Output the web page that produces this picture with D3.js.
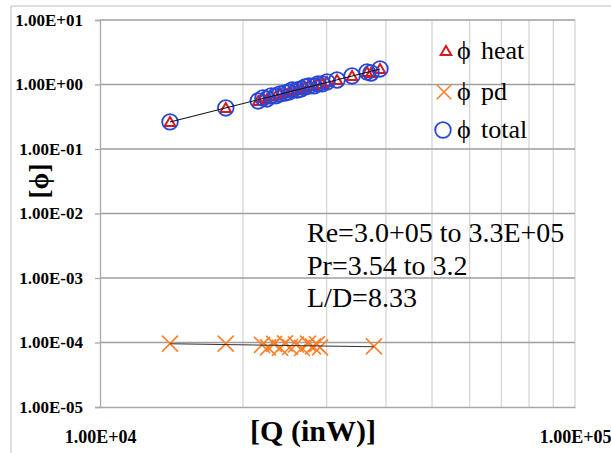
<!DOCTYPE html>
<html>
<head>
<meta charset="utf-8">
<script src="https://cdn.jsdelivr.net/npm/d3@7"></script>
<style>
  body { margin: 0; background: #fff; }
  svg { display: block; font-family: "Liberation Serif", "Times New Roman", serif; }
</style>
</head>
<body>
<svg id="chart" width="611" height="453"></svg>
<script>
// phi heat and phi total (total = heat + pd, same to the eye)
const qHeat = [14040, 18400, 21530, 22030, 22470, 22910, 23470, 23930, 24520, 25000, 25370, 25990,
               26500, 27010, 27540, 28220, 28770, 29340, 30060, 31550, 33930, 36490, 37200, 38860];
const phiHeat = [0.262, 0.432, 0.555, 0.618, 0.596, 0.664, 0.67, 0.713, 0.738, 0.765, 0.822, 0.82,
                 0.852, 0.915, 0.948, 0.95, 1.018, 1.02, 1.094, 1.174, 1.355, 1.563, 1.507, 1.74];
const qTotal = qHeat;
const phiTotal = [0.263, 0.433, 0.556, 0.619, 0.597, 0.665, 0.671, 0.714, 0.739, 0.766, 0.823, 0.821,
                  0.853, 0.916, 0.949, 0.951, 1.019, 1.021, 1.095, 1.175, 1.356, 1.564, 1.508, 1.741];

// phi pd
const qPd = [14040, 18400, 21930, 22580, 23250, 23930, 24520, 25120, 25860, 26620, 27410, 28080,
             28630, 29050, 37730];
const phiPd = [0.96e-4, 0.96e-4, 0.92e-4, 0.84e-4, 0.95e-4, 0.83e-4, 0.97e-4, 0.85e-4, 0.93e-4,
               0.82e-4, 0.96e-4, 0.87e-4, 0.94e-4, 0.84e-4, 0.87e-4];

const xTicks = [1e4, 1e5];
const yTicks = [1e-5, 1e-4, 1e-3, 1e-2, 1e-1, 1e0, 1e1];
const legendItems = ["heat", "pd", "total"];
const notes = ["Re=3.0+05 to 3.3E+05", "Pr=3.54 to 3.2", "L/D=8.33"];

const svg = d3.select("#chart");
const x = d3.scaleLog().domain([1e4, 1e5]).range([100, 575]);
const y = d3.scaleLog().domain([1e-5, 1e1]).range([407, 20]);

const fmtE = d => {
    const e = Math.round(Math.log10(d));
    return "1.00E" + (e < 0 ? "-" : "+") + String(Math.abs(e)).padStart(2, "0");
};

// outer chart frame (only left and top edges visible)
svg.append("line").attr("x1", 11).attr("x2", 11).attr("y1", 6).attr("y2", 453).attr("stroke", "#bdbdbd");
svg.append("line").attr("x1", 11).attr("x2", 611).attr("y1", 6).attr("y2", 6).attr("stroke", "#bdbdbd");

// vertical minor grid
const minor = d3.range(2, 11).map(k => k * 1e4);
svg.append("g").selectAll("line").data(minor).join("line")
    .attr("x1", d => x(d)).attr("x2", d => x(d))
    .attr("y1", y(1e1)).attr("y2", y(1e-5))
    .attr("stroke", "#d6d6d6").attr("stroke-width", 1.3);

// horizontal major grid
svg.append("g").selectAll("line").data(yTicks.slice(1)).join("line")
    .attr("x1", x(1e4)).attr("x2", x(1e5))
    .attr("y1", d => y(d)).attr("y2", d => y(d))
    .attr("stroke", "#9e9e9e").attr("stroke-width", 1.3);

// axes
const yAxis = svg.append("g").attr("transform", `translate(${x(1e4)},0)`)
    .call(d3.axisLeft(y).tickValues(yTicks).tickFormat(fmtE).tickSize(5).tickPadding(12));
const xAxis = svg.append("g").attr("transform", `translate(0,${y(1e-5)})`)
    .call(d3.axisBottom(x).tickValues(xTicks).tickFormat(fmtE).tickSize(0).tickPadding(23));
[yAxis, xAxis].forEach(a => {
    a.attr("font-family", "Liberation Serif");
    a.select(".domain").attr("stroke", "#a8a8a8").attr("stroke-width", 1.3);
    a.selectAll(".tick line").attr("stroke", "#a8a8a8").attr("stroke-width", 1.3);
    a.selectAll("text").style("font-weight", "bold").attr("fill", "#000");
});
yAxis.selectAll("text").style("font-size", "17px");
xAxis.selectAll("text").style("font-size", "18px");

// axis titles
svg.append("text").attr("x", 313).attr("y", 441).attr("text-anchor", "middle")
    .attr("font-weight", "bold").attr("font-size", 30).text("[Q (inW)]");
svg.append("text").attr("transform", "translate(48,181) rotate(-90)").attr("text-anchor", "middle")
    .attr("font-weight", "bold").attr("font-size", 27).text("[ϕ]");

// power-law trendlines
function powerFit(xs, ys) {
    const lx = xs.map(Math.log), ly = ys.map(Math.log);
    const mx = d3.mean(lx), my = d3.mean(ly);
    const b = d3.sum(lx, (v, i) => (v - mx) * (ly[i] - my)) / d3.sum(lx, v => (v - mx) * (v - mx));
    const a = my - b * mx;
    const ext = d3.extent(xs);
    return ext.map(q => [q, Math.exp(a + b * Math.log(q))]);
}

const line = d3.line().x(d => x(d[0])).y(d => y(d[1]));

const tri = d3.symbol().type(d3.symbolTriangle).size(48);
const cross = "M-8,-8L8,8M-8,8L8,-8";

// phi heat
svg.append("g").selectAll("path").data(qHeat).join("path")
    .attr("transform", (d, i) => `translate(${x(d)},${y(phiHeat[i]) + 1})`)
    .attr("d", tri).attr("fill", "none").attr("stroke", "#d71920").attr("stroke-width", 2);

// phi pd
svg.append("g").selectAll("path").data(qPd).join("path")
    .attr("transform", (d, i) => `translate(${x(d)},${y(phiPd[i])})`)
    .attr("d", cross).attr("fill", "none").attr("stroke", "#ff7f27").attr("stroke-width", 1.6);

// phi total
svg.append("g").selectAll("circle").data(qTotal).join("circle")
    .attr("cx", d => x(d)).attr("cy", (d, i) => y(phiTotal[i]))
    .attr("r", 7.8).attr("fill", "none").attr("stroke", "#2548d8").attr("stroke-width", 1.8);

svg.append("path").datum(powerFit(qHeat, phiHeat)).attr("d", line)
    .attr("fill", "none").attr("stroke", "#111").attr("stroke-width", 1.1);
svg.append("path").datum(powerFit(qPd, phiPd)).attr("d", line)
    .attr("fill", "none").attr("stroke", "#333").attr("stroke-width", 1.1);

// legend
const legY = [51, 92, 130];
const leg = svg.append("g");
leg.append("path").attr("transform", `translate(446,${legY[0] + 1})`).attr("d", tri)
    .attr("fill", "none").attr("stroke", "#d71920").attr("stroke-width", 2);
leg.append("path").attr("transform", `translate(444,${legY[1]}) scale(0.9)`).attr("d", cross)
    .attr("fill", "none").attr("stroke", "#ff7f27").attr("stroke-width", 1.8);
leg.append("circle").attr("cx", 443).attr("cy", legY[2]).attr("r", 7.8)
    .attr("fill", "none").attr("stroke", "#2548d8").attr("stroke-width", 1.8);
legendItems.forEach((name, i) => {
    leg.append("text").attr("x", 457).attr("y", legY[i] + 8).attr("font-size", 26).text("ϕ");
    leg.append("text").attr("x", 481).attr("y", legY[i] + 8).attr("font-size", 26).text(name);
});

// annotation
svg.append("g").selectAll("text").data(notes).join("text")
    .attr("x", 307).attr("y", (d, i) => 242 + i * 32.5)
    .attr("font-size", 28).attr("fill", "#000").text(d => d);
</script>
</body>
</html>
